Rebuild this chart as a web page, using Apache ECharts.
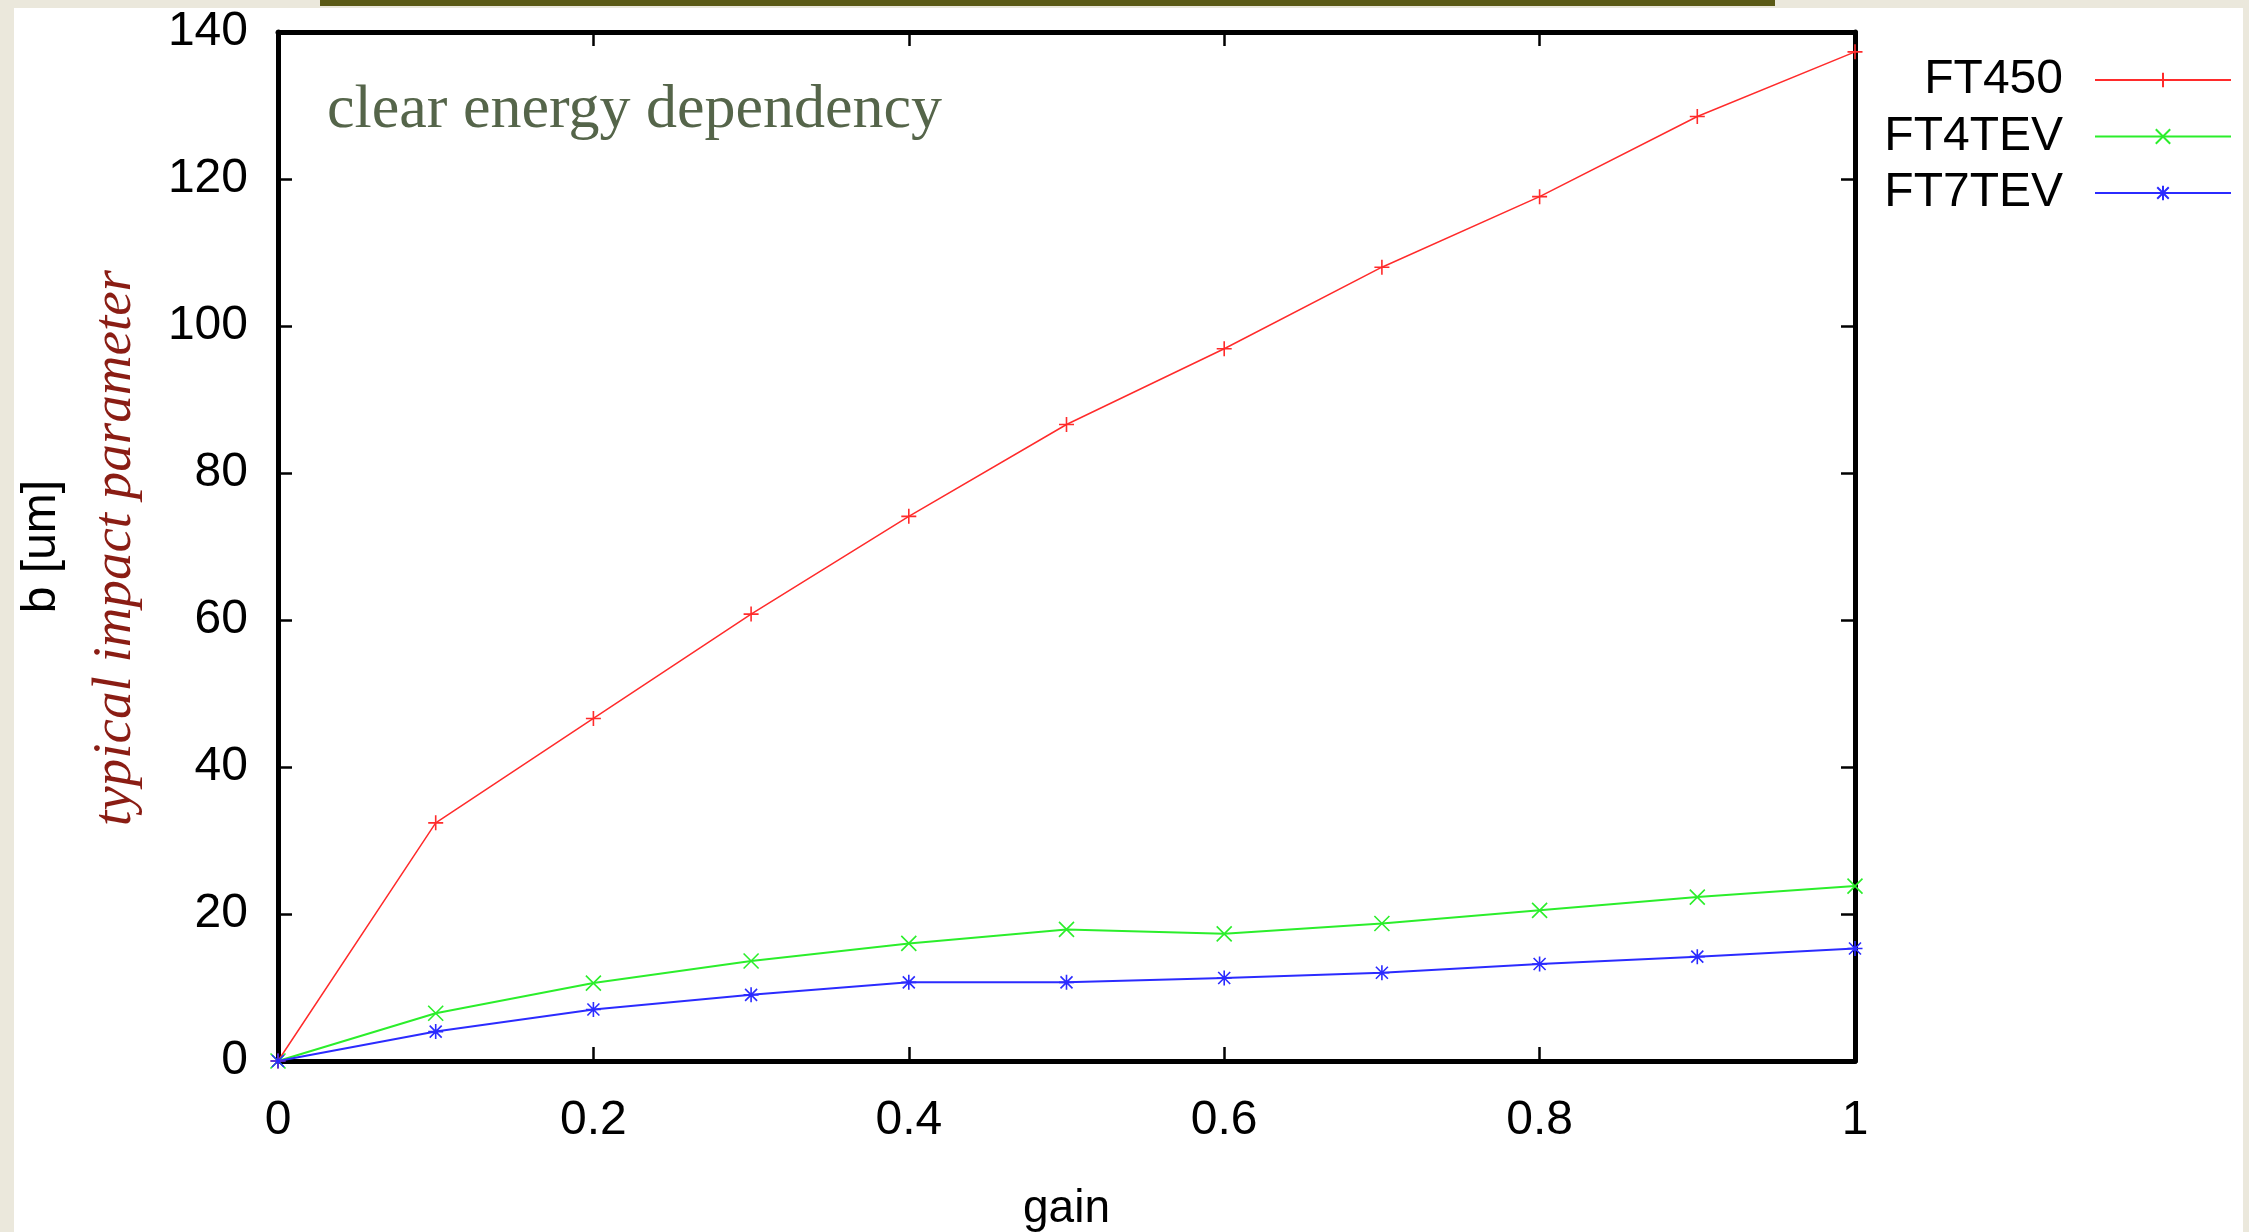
<!DOCTYPE html>
<html>
<head>
<meta charset="utf-8">
<script src="https://cdn.jsdelivr.net/npm/echarts@6/dist/echarts.min.js"></script>
<style>html,body{margin:0;padding:0;background:#ebe8dc;}#c{width:2249px;height:1232px;}</style>
</head>
<body>
<div id="c"></div>
<script>
const gain = [0, 0.1, 0.2, 0.3, 0.4, 0.5, 0.6, 0.7, 0.8, 0.9, 1.0];
const ft450 = [0, 32.4, 46.6, 60.8, 74.1, 86.6, 96.9, 108.0, 117.6, 128.5, 137.3];
const ft4tev = [0, 6.5, 10.6, 13.6, 16.0, 17.9, 17.3, 18.7, 20.5, 22.3, 23.8];
const ft7tev = [0, 4.0, 7.0, 9.0, 10.7, 10.7, 11.3, 12.0, 13.2, 14.2, 15.3];
const seriesNames = ['FT450', 'FT4TEV', 'FT7TEV'];
const xTicks = {min: 0, max: 1, interval: 0.2};
const yTicks = {min: 0, max: 140, interval: 20};

const SANS = '"Liberation Sans", Arial, sans-serif';
const SERIF = '"Liberation Serif", "Times New Roman", serif';
const PLUS = 'path://M5,0 L5,10 M0,5 L10,5';
const CROSS = 'path://M0,0 L10,10 M10,0 L0,10';
const STAR = 'path://M5,0 L5,10 M0,5 L10,5 M1,1 L9,9 M9,1 L1,9';

function pairs(ys) { return gain.map((g, i) => [g, ys[i]]); }
function mkSeries(name, ys, color, sym, lw) {
  return {
    name: name, type: 'line', data: pairs(ys),
    symbol: sym, symbolSize: 15, showSymbol: true,
    lineStyle: {color: color, width: lw},
    itemStyle: {color: color, borderColor: color, borderWidth: 1.6},
    emphasis: {disabled: true}, animation: false
  };
}
const axisLineStyle = {onZero: false, lineStyle: {color: '#000', width: 5}};
const tickStyle = {inside: true, length: 14, lineStyle: {color: '#000', width: 2.5}};
const chart = echarts.init(document.getElementById('c'), null, {renderer: 'canvas'});
chart.setOption({
  backgroundColor: '#ebe8dc',
  animation: false,
  grid: {left: 278, right: 394, top: 32, bottom: 171, containLabel: false, outerBoundsMode: 'none'},
  graphic: [
    {type: 'rect', z: -10, shape: {x: 14, y: 8, width: 2229, height: 1230}, style: {fill: '#ffffff'}},
    {type: 'rect', z: -10, shape: {x: 320, y: 0, width: 1455, height: 6}, style: {fill: '#5b5a16'}},
    {type: 'text', left: 327, top: 80, z: 10,
      style: {text: 'clear energy dependency', font: '62px ' + SERIF, fill: '#55654a'}},
    {type: 'text', x: 116, y: 548, rotation: Math.PI / 2, z: 10,
      style: {text: 'typical impact parameter', font: 'italic 55px ' + SERIF, fill: '#8a1d14',
        textAlign: 'center', textVerticalAlign: 'middle'}}
  ],
  legend: {
    orient: 'vertical', right: 12, top: 51, align: 'right',
    itemWidth: 136, itemHeight: 18, itemGap: 8.5,
    textStyle: {fontSize: 48, fontFamily: SANS, color: '#000', lineHeight: 44, padding: [0, 27, 0, 0]},
    data: seriesNames
  },
  xAxis: [
    {type: 'value', min: xTicks.min, max: xTicks.max, interval: xTicks.interval, position: 'bottom',
      name: 'gain', nameLocation: 'middle', nameGap: 125,
      nameTextStyle: {fontSize: 46, fontFamily: SANS, color: '#000'},
      axisLine: axisLineStyle, axisTick: tickStyle,
      axisLabel: {fontSize: 48, fontFamily: SANS, color: '#000', margin: 36},
      splitLine: {show: false}},
    {type: 'value', min: xTicks.min, max: xTicks.max, interval: xTicks.interval, position: 'top',
      axisLine: axisLineStyle, axisTick: tickStyle,
      axisLabel: {show: false}, splitLine: {show: false}}
  ],
  yAxis: [
    {type: 'value', min: yTicks.min, max: yTicks.max, interval: yTicks.interval, position: 'left',
      name: 'b [um]', nameLocation: 'middle', nameGap: 212,
      nameTextStyle: {fontSize: 48, fontFamily: SANS, color: '#000'},
      axisLine: axisLineStyle, axisTick: tickStyle,
      axisLabel: {fontSize: 48, fontFamily: SANS, color: '#000', margin: 30},
      splitLine: {show: false}},
    {type: 'value', min: yTicks.min, max: yTicks.max, interval: yTicks.interval, position: 'right',
      axisLine: axisLineStyle, axisTick: tickStyle,
      axisLabel: {show: false}, splitLine: {show: false}}
  ],
  series: [
    mkSeries(seriesNames[0], ft450, '#ff2b2b', PLUS, 1.5),
    mkSeries(seriesNames[1], ft4tev, '#2bee2b', CROSS, 2),
    mkSeries(seriesNames[2], ft7tev, '#2b2bff', STAR, 2)
  ]
});
</script>
</body>
</html>
